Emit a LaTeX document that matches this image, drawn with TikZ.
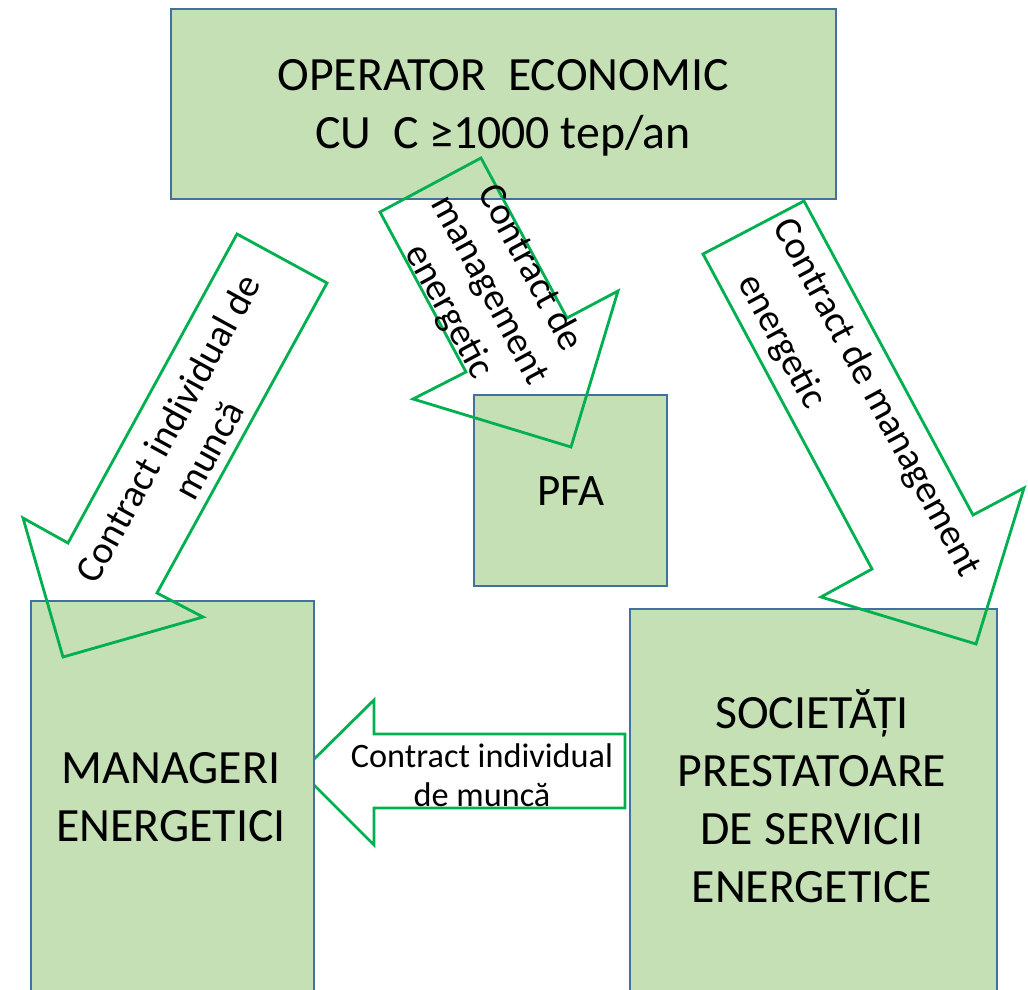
\documentclass[tikz,border=0pt]{standalone}
\usepackage{fontspec}
\setmainfont{Carlito}
\definecolor{boxgreen}{HTML}{C5E0B4}
\definecolor{boxblue}{HTML}{41719C}
\definecolor{arrowgreen}{HTML}{00B050}

\begin{document}
\begin{tikzpicture}[x=0.02cm, y=-0.02cm,
            box/.style = {draw=boxblue, fill=boxgreen, line width=1.4pt, anchor=north west, inner sep=0pt},
            blockarrow/.style = {draw=arrowgreen, line width=1.6pt, line join=miter},
            boxtext/.style = {font=\fontsize{27.2}{33}\selectfont, align=center},
            arrowtext/.style = {font=\fontsize{22}{26.2}\selectfont, align=center},
            smalltext/.style = {font=\fontsize{19.5}{22.2}\selectfont, align=center}
            ]
            \path[use as bounding box, clip] (0,0) rectangle (1028,990);

            \draw[blockarrow, fill=white] (625,734) -- (374,734) -- (374,700) -- (301,772)
                -- (374,845) -- (374,808) -- (625,808) -- cycle;

            \node[box, minimum width=665*0.02cm, minimum height=190*0.02cm] (operator) at (170,8) {};
            \node[box, minimum width=193*0.02cm, minimum height=191*0.02cm,
                font=\fontsize{25.6}{33}\selectfont] (pfa) at (473,394) {PFA};
            \node[box, minimum width=283*0.02cm, minimum height=420*0.02cm] (manageri) at (30,600) {};
            \node[box, minimum width=367*0.02cm, minimum height=420*0.02cm] (societati) at (629,608) {};

            \draw[blockarrow] (237,234) -- (327,283) -- (157,593) -- (203,617)
                -- (63,657) -- (23,518) -- (68,543) -- cycle;
            \draw[blockarrow] (481,158) -- (567,318) -- (618,291) -- (571,447)
                -- (413,399) -- (466,372) -- (380,212) -- cycle;
            \draw[blockarrow] (804,201) -- (973,515) -- (1024,488) -- (976,644)
                -- (821,597) -- (872,569) -- (703,254) -- cycle;

            \node[boxtext] (operatortext) at (503,108) {OPERATOR~~ECONOMIC\\CU~~C ≥1000 tep/an};
            \node[boxtext] (managertext) at (171,797) {MANAGERI\\ENERGETICI};
            \node[boxtext] (societatitext) at (812,796) {SOCIETĂȚI\\PRESTATOARE\\DE SERVICII\\ENERGETICE};

            \node[arrowtext, rotate=61.3] (munca) at (188,439) {Contract individual de\\muncă};
            \node[arrowtext, rotate=-61.7] (pfacontract) at (489,290) {Contract de\\management\\energetic};
            \node[arrowtext, rotate=-61.7] (servcontract) at (876,398) {Contract de management};
            \node[arrowtext, rotate=-61.7] (servenergetic) at (781,342) {energetic};
            \node[smalltext] (muncaleft) at (482,775) {Contract individual\\de muncă};
        \end{tikzpicture}
\end{document}
